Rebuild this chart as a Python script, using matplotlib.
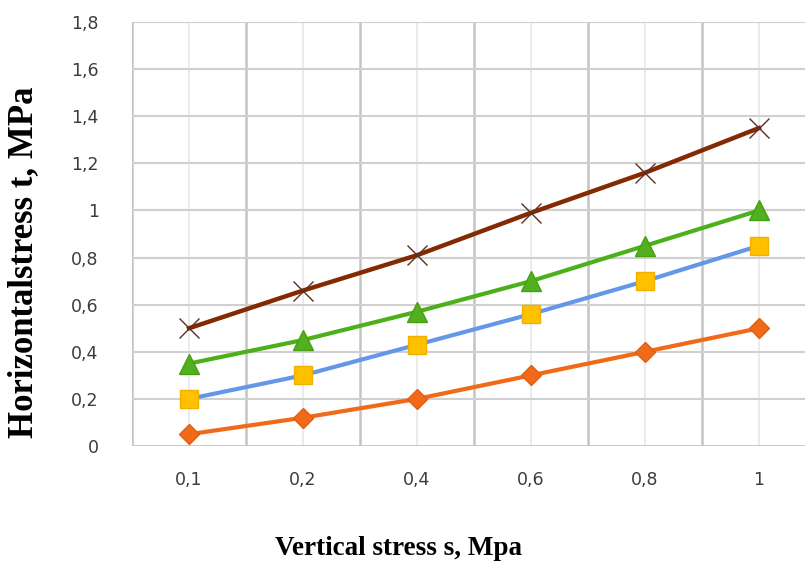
import matplotlib
matplotlib.use("Agg")
import matplotlib.pyplot as plt
import numpy as np

# data
categories = ["0,1", "0,2", "0,4", "0,6", "0,8", "1"]
s_orange = [0.05, 0.12, 0.20, 0.30, 0.40, 0.50]
s_blue = [0.20, 0.30, 0.43, 0.56, 0.70, 0.85]
s_green = [0.35, 0.45, 0.57, 0.70, 0.85, 1.00]
s_brown = [0.50, 0.66, 0.81, 0.99, 1.16, 1.35]
y_ticks = [0, 0.2, 0.4, 0.6, 0.8, 1.0, 1.2, 1.4, 1.6, 1.8]
y_labels = ["0", "0,2", "0,4", "0,6", "0,8", "1", "1,2", "1,4", "1,6", "1,8"]

fig = plt.figure(figsize=(8.05, 5.65), dpi=100)
ax = fig.add_axes([0.164, 0.2106, 0.836, 0.7504])
x = np.arange(len(categories))

# grid: darker lines at category borders, light ones at centers
for b in np.arange(-0.5, len(categories) + 0.5, 1.0):
    ax.axvline(b, color="#c4c4c4", lw=1.8, zorder=0)
for c in x:
    ax.axvline(c, color="#ebebeb", lw=1.5, zorder=0)
for yv in y_ticks[1:]:
    ax.axhline(yv, color="#d0d0d0", lw=1.5, zorder=0)
ax.axhline(0, color="#c4c4c4", lw=2.0, zorder=1)

ax.plot(x, s_orange, color="#f06a1a", lw=3.0, marker="D", ms=10,
        mfc="#f06a1a", mec="#e0600f", zorder=3)
ax.plot(x, s_blue, color="#6497e8", lw=3.0, marker="s", ms=12.5,
        mfc="#ffc000", mec="#f0b000", zorder=3)
ax.plot(x, s_green, color="#4cb01a", lw=3.0, marker="^", ms=14,
        mfc="#52b020", mec="#46a010", zorder=3)
ax.plot(x, s_brown, color="#842a02", lw=3.2, marker="x", ms=14,
        mew=1.0, mec="#5a3020", zorder=3)

ax.set_xlim(-0.5, 5.404)
ax.set_ylim(0, 1.8)
ax.set_xticks(x)
ax.set_xticklabels(categories)
ax.set_yticks(y_ticks)
ax.set_yticklabels(y_labels)
ax.tick_params(axis="both", length=0, labelsize=12.5, colors="#3c3c3c")
ax.tick_params(axis="x", pad=18)
ax.tick_params(axis="y", pad=24)
for sp in ax.spines.values():
    sp.set_visible(False)

fig.text(0.495, 0.018, "Vertical stress s, Mpa", ha="center", va="baseline",
         fontsize=19.5, fontweight="bold", family="Liberation Serif")
fig.text(0.029, 0.536, "Horizontalstress t, MPa", ha="center", va="center",
         rotation=90, fontsize=25, fontweight="bold", family="Liberation Serif")

fig.savefig("out.png", dpi=100)
